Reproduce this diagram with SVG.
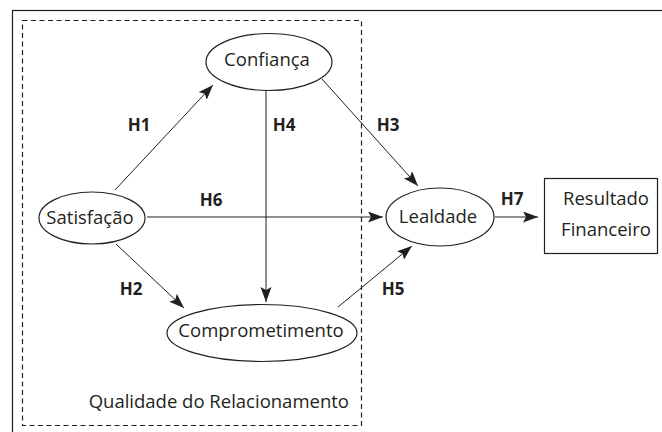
<svg xmlns="http://www.w3.org/2000/svg" width="662" height="432" viewBox="0 0 662 432">
  <style>
    .node { fill: #ffffff; stroke: #231f20; stroke-width: 1.2; }
    .lbl { font-family: "Open Sans", "Noto Sans", sans-serif; font-size: 18.5px; fill: #231f20; text-anchor: middle; }
    .h { font-family: "Open Sans", "Noto Sans", sans-serif; font-size: 17px; font-weight: bold; fill: #231f20; text-anchor: middle; }
    .edge { stroke: #231f20; stroke-width: 1; fill: none; marker-end: url(#arrow); }
  </style>
  <defs>
    <marker id="arrow" markerUnits="userSpaceOnUse" markerWidth="16" markerHeight="12" refX="15" refY="5.5" orient="auto">
      <path d="M0,0 L15,5.5 L0,11 L3,5.5 z" fill="#231f20"/>
    </marker>
  </defs>
  <rect width="662" height="432" fill="#ffffff"/>
  <rect id="frame" x="12.5" y="10.5" width="660" height="430" fill="none" stroke="#231f20" stroke-width="1.2"/>
  <g id="qualidade">
    <rect x="22.5" y="20.5" width="339" height="405" fill="none" stroke="#231f20" stroke-width="1.2" stroke-dasharray="5 3.5"/>
    <text class="lbl" x="349" y="408" style="text-anchor:end">Qualidade do Relacionamento</text>
  </g>
  <g id="connectors">
    <line class="edge" x1="115" y1="190" x2="213" y2="85"/>
    <line class="edge" x1="266" y1="91" x2="266" y2="302"/>
    <line class="edge" x1="322" y1="79" x2="418" y2="186"/>
    <line class="edge" x1="147" y1="217" x2="383" y2="217"/>
    <line class="edge" x1="116" y1="244" x2="184" y2="308"/>
    <line class="edge" x1="338" y1="307" x2="412" y2="246"/>
    <line class="edge" x1="495" y1="217" x2="538" y2="217"/>
    <text class="h" x="139" y="131">H1</text>
    <text class="h" x="284" y="131">H4</text>
    <text class="h" x="388" y="131">H3</text>
    <text class="h" x="211" y="206">H6</text>
    <text class="h" x="131" y="295">H2</text>
    <text class="h" x="393" y="295">H5</text>
    <text class="h" x="512" y="205">H7</text>
  </g>
  <g id="confianca">
    <ellipse class="node" cx="269" cy="62" rx="63" ry="28.5"/>
    <text class="lbl" x="267" y="66">Confiança</text>
  </g>
  <g id="satisfacao">
    <ellipse class="node" cx="92" cy="218" rx="53" ry="26"/>
    <text class="lbl" x="90" y="224">Satisfação</text>
  </g>
  <g id="lealdade">
    <ellipse class="node" cx="440" cy="217" rx="54" ry="29"/>
    <text class="lbl" x="438" y="223">Lealdade</text>
  </g>
  <g id="comprometimento">
    <ellipse class="node" cx="262" cy="333" rx="95" ry="28.5"/>
    <text class="lbl" x="261" y="337">Comprometimento</text>
  </g>
  <g id="resultado">
    <rect class="node" x="544.5" y="178.5" width="113" height="75"/>
    <text class="lbl" x="606" y="205">Resultado</text>
    <text class="lbl" x="606" y="236">Financeiro</text>
  </g>
</svg>
